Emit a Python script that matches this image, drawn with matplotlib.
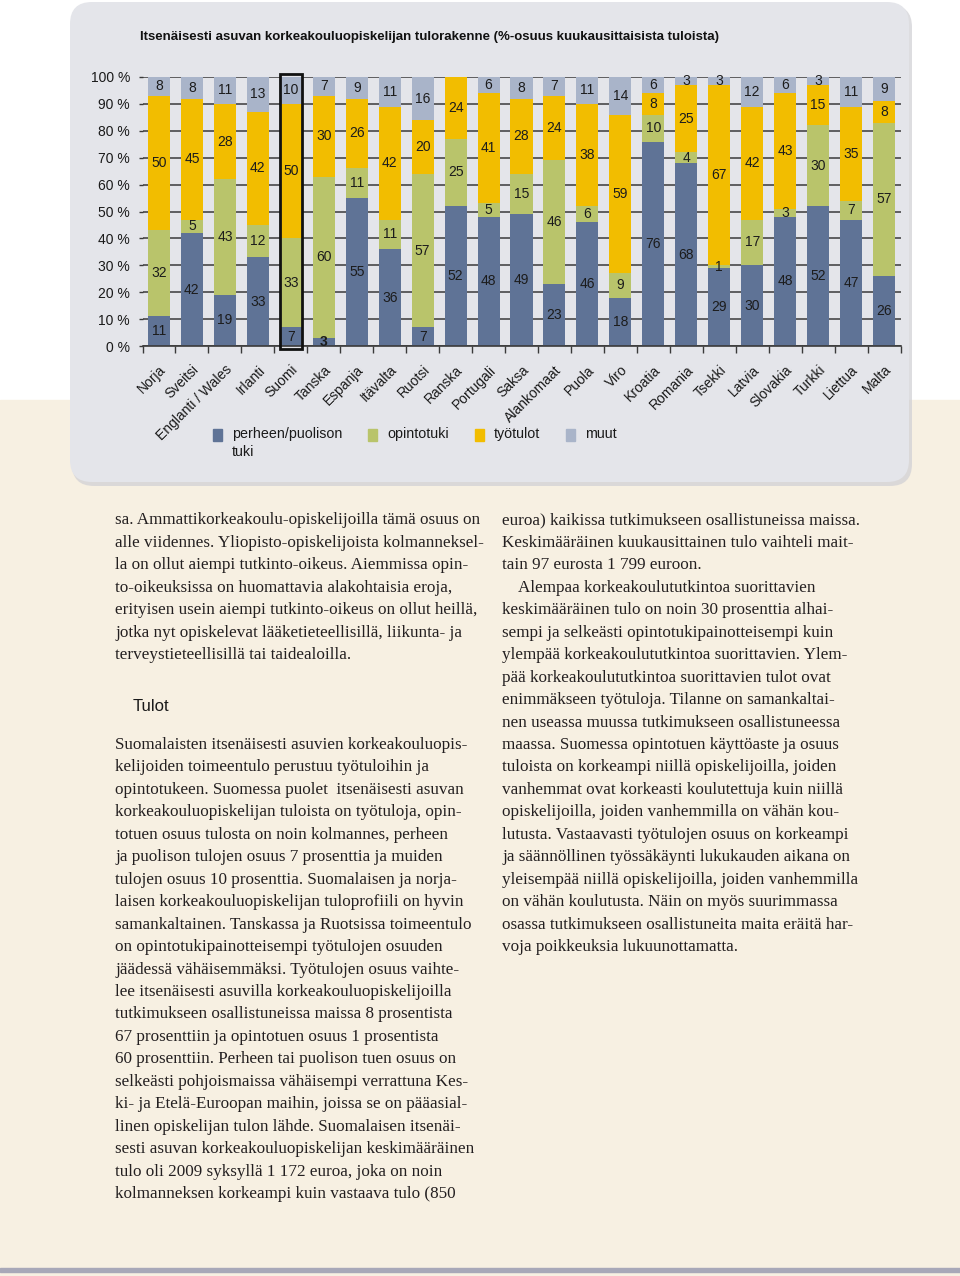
import numpy as np
import matplotlib.pyplot as plt
from matplotlib.patches import FancyBboxPatch, Rectangle
import matplotlib.transforms as mtransforms

plt.rcParams['font.family'] = ['Liberation Sans', 'DejaVu Sans']

# --- chart data (% share of monthly income) ---
countries = ["Norja", "Sveitsi", "Englanti / Wales", "Irlanti", "Suomi", "Tanska",
             "Espanja", "Itävalta", "Ruotsi", "Ranska", "Portugali", "Saksa",
             "Alankomaat", "Puola", "Viro", "Kroatia", "Romania", "Tsekki",
             "Latvia", "Slovakia", "Turkki", "Liettua", "Malta"]
perhe = [11, 42, 19, 33, 7, 3, 55, 36, 7, 52, 48, 49, 23, 46, 18, 76, 68, 29, 30, 48, 52, 47, 26]
opinto = [32, 5, 43, 12, 33, 60, 11, 11, 57, 25, 5, 15, 46, 6, 9, 10, 4, 1, 17, 3, 30, 7, 57]
tyo = [50, 45, 28, 42, 50, 30, 26, 42, 20, 24, 41, 28, 24, 38, 59, 8, 25, 67, 42, 43, 15, 35, 8]
muut = [8, 8, 11, 13, 10, 7, 9, 11, 16, 0, 6, 8, 7, 11, 14, 6, 3, 3, 12, 6, 3, 11, 9]
series_names = ["perheen/puolison\ntuki", "opintotuki", "työtulot", "muut"]
series_colors = ["#5f7396", "#b9c46b", "#f2bd00", "#a9b4c9"]
highlight = "Suomi"
yticks = list(range(0, 101, 10))

title = "Itsenäisesti asuvan korkeakouluopiskelijan tulorakenne (%-osuus kuukausittaisista tuloista)"

# --- body text ---
col1_par1 = [
    "sa. Ammattikorkeakoulu-opiskelijoilla tämä osuus on",
    "alle viidennes. Yliopisto-opiskelijoista kolmanneksel-",
    "la on ollut aiempi tutkinto-oikeus. Aiemmissa opin-",
    "to-oikeuksissa on huomattavia alakohtaisia eroja,",
    "erityisen usein aiempi tutkinto-oikeus on ollut heillä,",
    "jotka nyt opiskelevat lääketieteellisillä, liikunta- ja",
    "terveystieteellisillä tai taidealoilla.",
]
heading = "Tulot"
col1_par2 = [
    "Suomalaisten itsenäisesti asuvien korkeakouluopis-",
    "kelijoiden toimeentulo perustuu työtuloihin ja",
    "opintotukeen. Suomessa puolet  itsenäisesti asuvan",
    "korkeakouluopiskelijan tuloista on työtuloja, opin-",
    "totuen osuus tulosta on noin kolmannes, perheen",
    "ja puolison tulojen osuus 7 prosenttia ja muiden",
    "tulojen osuus 10 prosenttia. Suomalaisen ja norja-",
    "laisen korkeakouluopiskelijan tuloprofiili on hyvin",
    "samankaltainen. Tanskassa ja Ruotsissa toimeentulo",
    "on opintotukipainotteisempi työtulojen osuuden",
    "jäädessä vähäisemmäksi. Työtulojen osuus vaihte-",
    "lee itsenäisesti asuvilla korkeakouluopiskelijoilla",
    "tutkimukseen osallistuneissa maissa 8 prosentista",
    "67 prosenttiin ja opintotuen osuus 1 prosentista",
    "60 prosenttiin. Perheen tai puolison tuen osuus on",
    "selkeästi pohjoismaissa vähäisempi verrattuna Kes-",
    "ki- ja Etelä-Euroopan maihin, joissa se on pääasial-",
    "linen opiskelijan tulon lähde. Suomalaisen itsenäi-",
    "sesti asuvan korkeakouluopiskelijan keskimääräinen",
    "tulo oli 2009 syksyllä 1 172 euroa, joka on noin",
    "kolmanneksen korkeampi kuin vastaava tulo (850",
]
col2 = [
    "euroa) kaikissa tutkimukseen osallistuneissa maissa.",
    "Keskimääräinen kuukausittainen tulo vaihteli mait-",
    "tain 97 eurosta 1 799 euroon.",
    "    Alempaa korkeakoulututkintoa suorittavien",
    "keskimääräinen tulo on noin 30 prosenttia alhai-",
    "sempi ja selkeästi opintotukipainotteisempi kuin",
    "ylempää korkeakoulututkintoa suorittavien. Ylem-",
    "pää korkeakoulututkintoa suorittavien tulot ovat",
    "enimmäkseen työtuloja. Tilanne on samankaltai-",
    "nen useassa muussa tutkimukseen osallistuneessa",
    "maassa. Suomessa opintotuen käyttöaste ja osuus",
    "tuloista on korkeampi niillä opiskelijoilla, joiden",
    "vanhemmat ovat korkeasti koulutettuja kuin niillä",
    "opiskelijoilla, joiden vanhemmilla on vähän kou-",
    "lutusta. Vastaavasti työtulojen osuus on korkeampi",
    "ja säännöllinen työssäkäynti lukukauden aikana on",
    "yleisempää niillä opiskelijoilla, joiden vanhemmilla",
    "on vähän koulutusta. Näin on myös suurimmassa",
    "osassa tutkimukseen osallistuneita maita eräitä har-",
    "voja poikkeuksia lukuunottamatta.",
]

W, H = 960, 1276
fig = plt.figure(figsize=(W / 100, H / 100), dpi=100)
fig.patch.set_facecolor("white")

# background layer in pixel coordinates
bg = fig.add_axes([0, 0, 1, 1])
bg.set_xlim(0, W)
bg.set_ylim(H, 0)
bg.axis("off")
bg.add_patch(Rectangle((0, 400), W, H - 400, color="#f7f0e2", zorder=0))
bg.add_patch(Rectangle((0, 1268), W, 4, color="#a8a8b8", zorder=1))
bg.add_patch(FancyBboxPatch((72, 5), 840, 481, boxstyle="round,pad=0,rounding_size=22",
                            fc="#cfcfd4", ec="none", alpha=0.7, zorder=1))
bg.add_patch(FancyBboxPatch((70, 2), 839, 480, boxstyle="round,pad=0,rounding_size=22",
                            fc="#e4e5ea", ec="none", zorder=2))

bg.text(140, 37, title, fontsize=9.5, fontweight="bold", va="center", ha="left",
        color="#111111", zorder=3)

# legend
leg_x = [213, 368, 475, 566]
for lx, name, c in zip(leg_x, series_names, series_colors):
    bg.add_patch(Rectangle((lx, 429), 9, 12, color=c, zorder=3))
    bg.text(lx + 19, 427, name, fontsize=10.3, va="top", ha="left", linespacing=1.35,
            color="#1a1a1a", zorder=3)

# chart axes
ax = fig.add_axes([142.5 / W, 1 - 346 / H, 758 / W, 269 / H])
ax.set_facecolor("none")
x = np.arange(len(countries))
bw = 0.67
bottom = np.zeros(len(countries))
for vals, c in zip([perhe, opinto, tyo, muut], series_colors):
    vals = np.array(vals, dtype=float)
    ax.bar(x, vals, bw, bottom=bottom, color=c, zorder=2)
    for i, v in enumerate(vals):
        if v > 0:
            top = min(bottom[i] + v, 100)
            ax.text(i, (bottom[i] + top) / 2, f"{int(v)}", ha="center", va="center",
                    fontsize=10, color="#1c1c1c", zorder=6,
                    fontweight="bold" if v < 4 and bottom[i] == 0 else "normal")
    bottom += vals

hi = countries.index(highlight)
ax.add_patch(Rectangle((hi - bw / 2, -1), bw, 102, fill=False, ec="#111111", lw=2,
                       zorder=7, clip_on=False))

ax.set_xlim(-0.5, len(countries) - 0.5)
ax.set_ylim(0, 100)
ax.set_yticks(yticks)
ax.set_yticklabels([f"{t} %" for t in yticks], fontsize=10, color="#1a1a1a")
ax.yaxis.grid(True, color="#3a3a3a", lw=1.1)
ax.set_axisbelow(True)
ax.tick_params(axis="y", length=3, width=1, color="#3a3a3a", pad=6)
ax.set_xticks(x)
ax.set_xticklabels(countries, rotation=45, ha="right", rotation_mode="anchor",
                   fontsize=10, color="#1a1a1a")
offset = mtransforms.ScaledTranslation(6 / 100, 0, fig.dpi_scale_trans)
for lab in ax.get_xticklabels():
    lab.set_transform(lab.get_transform() + offset)
ax.tick_params(axis="x", which="major", length=0, pad=12)
ax.set_xticks(np.arange(-0.5, len(countries)), minor=True)
ax.tick_params(axis="x", which="minor", length=5, width=1, color="#3a3a3a")
for s in ["top", "left", "right"]:
    ax.spines[s].set_visible(False)
ax.spines["bottom"].set_color("#3a3a3a")
ax.spines["bottom"].set_linewidth(1.2)

# body text
serif = ["Liberation Serif", "DejaVu Serif"]
pitch = 22.45
base = 524.5
fs = 12.3
tc = "#231f20"
for k, line in enumerate(col1_par1):
    bg.text(115, base + pitch * k, line, fontsize=fs, family=serif, color=tc,
            va="baseline", ha="left", zorder=3)
bg.text(133, 711, heading, fontsize=12, color="#1a1a1a", va="baseline", ha="left", zorder=3)
for k, line in enumerate(col1_par2):
    bg.text(115, base + pitch * (10 + k), line, fontsize=fs, family=serif, color=tc,
            va="baseline", ha="left", zorder=3)
for k, line in enumerate(col2):
    bg.text(502, base + pitch * k, line, fontsize=fs, family=serif, color=tc,
            va="baseline", ha="left", zorder=3)

plt.savefig("out.png", dpi=100)
